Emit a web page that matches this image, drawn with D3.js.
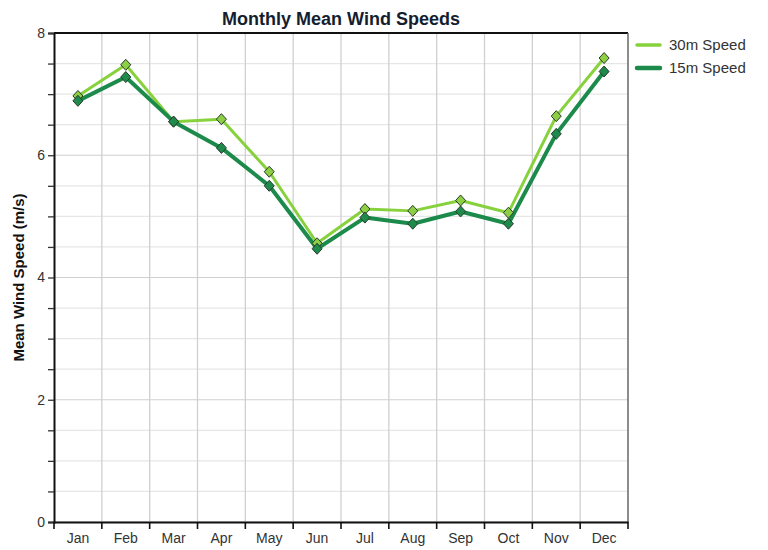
<!DOCTYPE html>
<html>
<head>
<meta charset="utf-8">
<script src="https://cdn.jsdelivr.net/npm/d3@7/dist/d3.min.js"></script>
<style>
html,body{margin:0;padding:0;background:#fff;}
svg{display:block;font-family:"Liberation Sans",Arial,sans-serif;}
</style>
</head>
<body>
<svg id="chart" width="768" height="550"></svg>
<script>
const months = ["Jan","Feb","Mar","Apr","May","Jun","Jul","Aug","Sep","Oct","Nov","Dec"];
const speed30 = [6.97,7.48,6.55,6.59,5.73,4.56,5.12,5.09,5.26,5.06,6.64,7.59];
const speed15 = [6.89,7.28,6.55,6.12,5.50,4.47,4.98,4.88,5.08,4.88,6.35,7.37];
const yTicks = [0,2,4,6,8];
const seriesNames = ["30m Speed","15m Speed"];

const svg = d3.select("#chart");
const m = {left:54, right:628, top:33, bottom:522};

const x = d3.scaleBand().domain(months).range([m.left, m.right]).padding(0);
const y = d3.scaleLinear().domain([0,8]).range([m.bottom, m.top]);

// grid
const minor = d3.range(0, 8.01, 0.5);
svg.append("g").selectAll("line").data(minor).join("line")
  .attr("x1", m.left).attr("x2", m.right)
  .attr("y1", d=>y(d)).attr("y2", d=>y(d))
  .attr("stroke", d => d%2===0 ? "#cfcfcf" : "#e6e6e6").attr("stroke-width", 1.2);
svg.append("g").selectAll("line").data(months.slice(1)).join("line")
  .attr("x1", d=>x(d)).attr("x2", d=>x(d))
  .attr("y1", m.top).attr("y2", m.bottom)
  .attr("stroke", "#d0d0d0").attr("stroke-width", 1.3);

// frame
svg.append("line").attr("x1", m.left).attr("x2", m.right).attr("y1", m.top).attr("y2", m.top)
  .attr("stroke", "#111").attr("stroke-width", 2);
svg.append("line").attr("x1", m.right).attr("x2", m.right).attr("y1", m.top).attr("y2", m.bottom)
  .attr("stroke", "#666").attr("stroke-width", 1.5);

// y axis
const yAxis = d3.axisLeft(y).tickValues(minor).tickSize(6)
  .tickFormat(d => yTicks.includes(d) ? d3.format("d")(d) : "");
const gy = svg.append("g").attr("transform", `translate(${m.left},0)`).call(yAxis);
gy.select(".domain").attr("stroke", "#111").attr("stroke-width", 2);
gy.selectAll(".tick line").attr("stroke", "#333").attr("stroke-width", 1.3);
gy.selectAll(".tick text").attr("font-size", 14).attr("fill", "#333").attr("x", -9);

// x axis
const xAxis = d3.axisBottom(x).tickSize(0);
const gx = svg.append("g").attr("transform", `translate(0,${m.bottom})`).call(xAxis);
gx.select(".domain").attr("stroke", "#111").attr("stroke-width", 2.2);
gx.selectAll(".tick text").attr("font-size", 14).attr("fill", "#333").attr("dy", "0.95em").attr("y", 8);
// tick marks at band boundaries
svg.append("g").selectAll("line").data(months).join("line")
  .attr("x1", d=>x(d)).attr("x2", d=>x(d))
  .attr("y1", m.bottom).attr("y2", m.bottom+7)
  .attr("stroke", "#111").attr("stroke-width", 1.6);
svg.append("line").attr("x1", m.right).attr("x2", m.right).attr("y1", m.bottom).attr("y2", m.bottom+7)
  .attr("stroke", "#111").attr("stroke-width", 1.6);

// series
const cx = d => x(d) + x.bandwidth()/2;
const series = [
  {name:seriesNames[0], values:speed30, color:"#86d13c", marker:"#8ccf45", width:3},
  {name:seriesNames[1], values:speed15, color:"#1b8a4a", marker:"#1e8b4c", width:4}
];
const line = d3.line().x((d,i)=>cx(months[i])).y(d=>y(d));
const squareDiamond = {
  draw(ctx, size) {
    const r = Math.sqrt(size/2);
    ctx.moveTo(0, -r*1.1); ctx.lineTo(r, 0); ctx.lineTo(0, r*1.1); ctx.lineTo(-r, 0); ctx.closePath();
  }
};
const diamond = d3.symbol().type(squareDiamond).size(50);

series.forEach(s => {
  svg.append("path").datum(s.values).attr("d", line)
    .attr("fill","none").attr("stroke", s.color).attr("stroke-width", s.width)
    .attr("stroke-linejoin","round");
});
series.forEach(s => {
  svg.append("g").selectAll("path").data(s.values).join("path")
    .attr("d", diamond)
    .attr("transform", (d,i)=>`translate(${cx(months[i])},${y(d)})`)
    .attr("fill", s.marker).attr("stroke", "#2a3a2a").attr("stroke-width", 1);
});

// title
svg.append("text").attr("x", (m.left+m.right)/2).attr("y", 25)
  .attr("text-anchor","middle").attr("font-size", 18).attr("font-weight","bold")
  .attr("fill","#141e2e").text("Monthly Mean Wind Speeds");

// y label
svg.append("text").attr("transform", `translate(24,${(m.top+m.bottom)/2}) rotate(-90)`)
  .attr("text-anchor","middle").attr("font-size", 15).attr("font-weight","bold")
  .attr("fill","#111").text("Mean Wind Speed (m/s)");

// legend
const lg = svg.append("g");
series.forEach((s,i) => {
  const ly = 45 + i*23;
  lg.append("line").attr("x1", 637).attr("x2", 660).attr("y1", ly).attr("y2", ly)
    .attr("stroke", s.color).attr("stroke-width", s.width+0.5).attr("stroke-linecap","round");
  lg.append("text").attr("x", 669).attr("y", ly).attr("dy","0.35em")
    .attr("font-size", 15).attr("fill","#333").text(s.name);
});
</script>
</body>
</html>
